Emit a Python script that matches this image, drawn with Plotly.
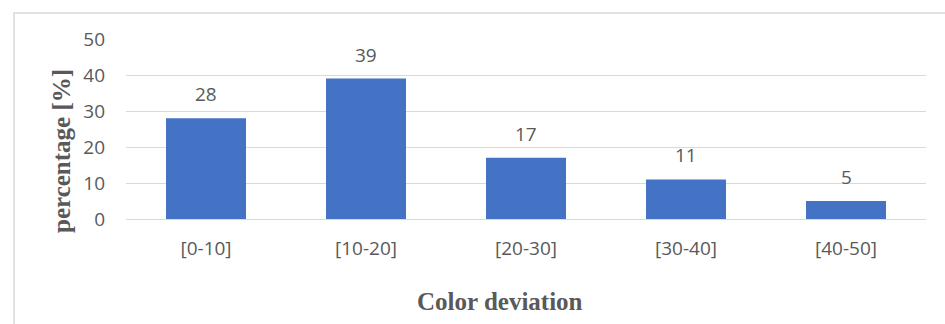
import plotly.graph_objects as go

# Share of samples per colour-deviation bin
categories = ["[0-10]", "[10-20]", "[20-30]", "[30-40]", "[40-50]"]
percentages = [28, 39, 17, 11, 5]
y_ticks = [0, 10, 20, 30, 40, 50]

BAR = "#4472C4"
TEXT = "#595959"
GRID = "#D9D9D9"
SANS = "Open Sans, Liberation Sans, sans-serif"
SERIF = "Liberation Serif, DejaVu Serif, serif"

fig = go.Figure(
    go.Bar(
        x=categories,
        y=percentages,
        marker=dict(color=BAR, line=dict(width=0)),
        hoverinfo="x+y",
    )
)

# Value labels above each bar
for c, v in zip(categories, percentages):
    fig.add_annotation(
        x=c, y=v, text=str(v), showarrow=False,
        yanchor="bottom", yshift=9,
        font=dict(family=SANS, size=19, color=TEXT),
    )

# Axis titles
fig.add_annotation(
    xref="paper", yref="paper", x=(500 - 126) / 800, y=(219 - 301) / 180,
    text="<b>Color deviation</b>", showarrow=False,
    xanchor="center", yanchor="middle",
    font=dict(family=SERIF, size=25, color=TEXT),
)
fig.add_annotation(
    xref="paper", yref="paper", x=(61 - 126) / 800, y=(219 - 151) / 180,
    text="<b>percentage [%]</b>", showarrow=False, textangle=-90,
    xanchor="center", yanchor="middle",
    font=dict(family=SERIF, size=25, color=TEXT),
)

# Chart-area frame (top and left edges)
fig.add_shape(
    type="path", xref="paper", yref="paper",
    path="M -0.14,-0.6 L -0.14,1.1444 L 1.05,1.1444",
    line=dict(color=GRID, width=1.5),
)

fig.update_layout(
    width=945, height=324,
    margin=dict(l=126, r=19, t=39, b=105),
    paper_bgcolor="white", plot_bgcolor="white",
    bargap=0.5,
    showlegend=False,
    xaxis=dict(
        showgrid=False, showline=False, ticks="",
        tickfont=dict(family=SANS, size=19, color=TEXT),
        ticklabelstandoff=16,
    ),
    yaxis=dict(
        range=[0, 50], tickvals=y_ticks,
        showgrid=True, gridcolor=GRID, gridwidth=1,
        zeroline=True, zerolinecolor=GRID, zerolinewidth=1,
        showline=False, ticks="",
        tickfont=dict(family=SANS, size=19, color=TEXT),
        ticklabelstandoff=20,
    ),
)

fig.write_html("out.html")
